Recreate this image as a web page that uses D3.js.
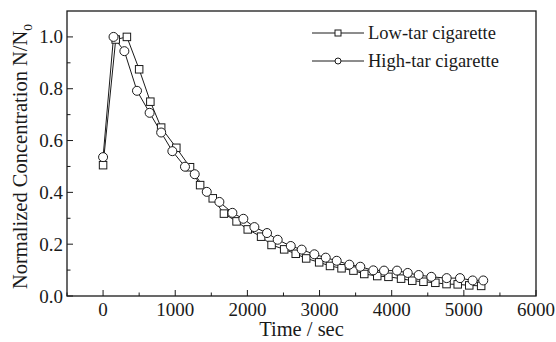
<!DOCTYPE html>
<html><head><meta charset="utf-8">
<script src="https://cdn.jsdelivr.net/npm/d3@7"></script>
<style>body{margin:0;background:#fff}svg{display:block}</style>
</head><body>
<svg id="c" width="556" height="342"></svg>
<script>
const lowTarTime = [0,175,330,500,655,805,1015,1205,1345,1520,1675,1850,2005,2190,2335,2510,2670,2815,2995,3145,3305,3470,3620,3800,3955,4130,4285,4440,4605,4760,4915,5075,5240];
const lowTarValue = [0.505,0.99,1.0,0.875,0.75,0.65,0.572,0.497,0.428,0.377,0.318,0.288,0.257,0.229,0.197,0.18,0.163,0.145,0.13,0.116,0.107,0.098,0.085,0.077,0.074,0.067,0.059,0.055,0.051,0.046,0.045,0.041,0.039];
const highTarTime = [0,145,295,470,645,805,960,1135,1270,1437,1612,1792,1944,2097,2272,2420,2601,2753,2928,3086,3238,3413,3565,3745,3894,4074,4222,4374,4549,4762,4947,5122,5269];
const highTarValue = [0.536,1.0,0.945,0.792,0.707,0.631,0.559,0.499,0.47,0.402,0.363,0.321,0.298,0.266,0.243,0.217,0.193,0.179,0.161,0.148,0.136,0.121,0.113,0.099,0.098,0.098,0.089,0.081,0.074,0.069,0.069,0.060,0.060];
const xTicks = [0,1000,2000,3000,4000,5000,6000];
const yTicks = [0,0.2,0.4,0.6,0.8,1.0];
const seriesNames = ["Low-tar cigarette","High-tar cigarette"];

const svg = d3.select("#c");
const L=67,R=536,T=11,B=296;
const x = d3.scaleLinear().domain([-500,6000]).range([L,R]);
const y = d3.scaleLinear().domain([0,1.1]).range([B,T]);
const ink="#1a1a1a";
const font="'Liberation Serif','Times New Roman',serif";

const g = svg.append("g");
d3.range(-500,6001,500).forEach(v=>{
  const major = xTicks.includes(v);
  g.append("line").attr("x1",x(v)).attr("x2",x(v)).attr("y1",B).attr("y2",B-(major?6:3.5)).attr("stroke",ink).attr("stroke-width",1);
});
d3.range(0,11).map(i=>i/10).forEach(v=>{
  const isMaj = Math.round(v*10)%2===0;
  g.append("line").attr("x1",L).attr("x2",L+(isMaj?6:3.5)).attr("y1",y(v)).attr("y2",y(v)).attr("stroke",ink).attr("stroke-width",1);
});
svg.append("rect").attr("x",L).attr("y",T).attr("width",R-L).attr("height",B-T).attr("fill","none").attr("stroke",ink).attr("stroke-width",1.3);

svg.append("g").selectAll("text").data(xTicks).join("text")
  .attr("x",d=>x(d)).attr("y",B+20).attr("text-anchor","middle")
  .attr("font-family",font).attr("font-size",19).attr("fill",ink).text(d=>d);
svg.append("g").selectAll("text").data(yTicks).join("text")
  .attr("x",L-4).attr("y",d=>y(d)+6.5).attr("text-anchor","end")
  .attr("font-family",font).attr("font-size",19).attr("fill",ink).text(d=>d.toFixed(1));

svg.append("text").attr("x",(L+R)/2).attr("y",336).attr("text-anchor","middle")
  .attr("font-family",font).attr("font-size",20.5).attr("fill",ink).text("Time / sec");
const yt = svg.append("text").attr("transform",`translate(27,${(T+B)/2+3}) rotate(-90)`).attr("text-anchor","middle")
  .attr("font-family",font).attr("font-size",20.5).attr("fill",ink);
yt.append("tspan").text("Normalized Concentration N/N");
yt.append("tspan").attr("font-size",13.5).attr("dy",5).text("0");

const line = d3.line().x(d=>x(d[0])).y(d=>y(d[1]));
const low = lowTarTime.map((t,i)=>[t,lowTarValue[i]]);
const high = highTarTime.map((t,i)=>[t,highTarValue[i]]);

svg.append("path").datum(low).attr("d",line).attr("fill","none").attr("stroke",ink).attr("stroke-width",1);
svg.append("path").datum(high).attr("d",line).attr("fill","none").attr("stroke",ink).attr("stroke-width",1);
const s=7.5;
svg.append("g").selectAll("rect").data(low).join("rect")
  .attr("x",d=>x(d[0])-s/2).attr("y",d=>y(d[1])-s/2).attr("width",s).attr("height",s)
  .attr("fill","#fff").attr("stroke",ink).attr("stroke-width",1);
svg.append("g").selectAll("circle").data(high).join("circle")
  .attr("cx",d=>x(d[0])).attr("cy",d=>y(d[1])).attr("r",4.5)
  .attr("fill","#fff").attr("stroke",ink).attr("stroke-width",1);

const lg = svg.append("g");
[0,1].forEach(i=>{
  const yy = 33 + i*28;
  lg.append("line").attr("x1",312).attr("x2",364).attr("y1",yy).attr("y2",yy).attr("stroke",ink).attr("stroke-width",1);
  if(i===0) lg.append("rect").attr("x",338-3).attr("y",yy-3).attr("width",6).attr("height",6).attr("fill","#fff").attr("stroke",ink);
  else lg.append("circle").attr("cx",338).attr("cy",yy).attr("r",3).attr("fill","#fff").attr("stroke",ink);
  lg.append("text").attr("x",368).attr("y",yy+6).attr("font-family",font).attr("font-size",18.5).attr("fill",ink).text(seriesNames[i]);
});
</script>
</body></html>
